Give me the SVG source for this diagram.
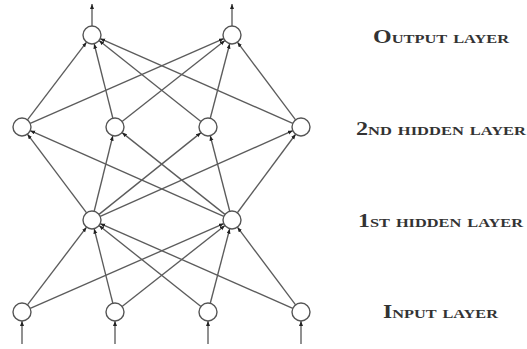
<svg xmlns="http://www.w3.org/2000/svg" width="527" height="349" viewBox="0 0 527 349">
  <style>
    .edge { stroke: #5c5c5c; stroke-width: 1.35; fill: none; marker-end: url(#tip); }
    .node circle { fill: #ffffff; stroke: #555555; stroke-width: 1.4; }
    .label { font-family: "Liberation Serif", "DejaVu Serif", serif; font-size: 19px; font-weight: bold; font-variant: small-caps; fill: #333333; text-anchor: middle; }
  </style>
  <defs>
    <marker id="tip" markerUnits="userSpaceOnUse" markerWidth="6" markerHeight="5" refX="5" refY="2" orient="auto">
      <path d="M0,0 L5,2 L0,4 z" fill="#222222"/>
    </marker>
  </defs>
  <rect width="527" height="349" fill="#ffffff"/>

  <g id="connectors">
    <!-- inputs into the network -->
    <line class="edge" x1="22" y1="344" x2="22" y2="321"/>
    <line class="edge" x1="115" y1="344" x2="115" y2="321"/>
    <line class="edge" x1="208" y1="344" x2="208" y2="321"/>
    <line class="edge" x1="301" y1="344" x2="301" y2="321"/>
    <!-- input layer to 1st hidden layer -->
    <line class="edge" x1="27.45" y1="304.84" x2="86.55" y2="227.16"/>
    <line class="edge" x1="30.24" y1="308.39" x2="223.76" y2="223.61"/>
    <line class="edge" x1="112.82" y1="303.27" x2="94.18" y2="228.73"/>
    <line class="edge" x1="122.07" y1="306.44" x2="224.93" y2="225.56"/>
    <line class="edge" x1="200.95" y1="306.41" x2="99.05" y2="225.59"/>
    <line class="edge" x1="210.27" y1="303.29" x2="229.73" y2="228.71"/>
    <line class="edge" x1="292.76" y1="308.37" x2="100.24" y2="223.63"/>
    <line class="edge" x1="295.6" y1="304.8" x2="237.4" y2="227.2"/>
    <!-- 1st hidden layer to 2nd hidden layer -->
    <line class="edge" x1="86.59" y1="212.81" x2="27.41" y2="134.19"/>
    <line class="edge" x1="94.16" y1="211.26" x2="112.84" y2="135.74"/>
    <line class="edge" x1="99.02" y1="214.37" x2="200.98" y2="132.63"/>
    <line class="edge" x1="100.22" y1="216.34" x2="292.78" y2="130.66"/>
    <line class="edge" x1="223.77" y1="216.36" x2="30.23" y2="130.64"/>
    <line class="edge" x1="224.95" y1="214.4" x2="122.05" y2="132.6"/>
    <line class="edge" x1="229.75" y1="211.29" x2="210.25" y2="135.71"/>
    <line class="edge" x1="237.36" y1="212.77" x2="295.64" y2="134.23"/>
    <!-- 2nd hidden layer to output layer -->
    <line class="edge" x1="27.45" y1="119.84" x2="86.55" y2="42.16"/>
    <line class="edge" x1="30.24" y1="123.39" x2="223.76" y2="38.61"/>
    <line class="edge" x1="112.82" y1="118.27" x2="94.18" y2="43.73"/>
    <line class="edge" x1="122.07" y1="121.44" x2="224.93" y2="40.56"/>
    <line class="edge" x1="200.95" y1="121.41" x2="99.05" y2="40.59"/>
    <line class="edge" x1="210.27" y1="118.29" x2="229.73" y2="43.71"/>
    <line class="edge" x1="292.76" y1="123.37" x2="100.24" y2="38.63"/>
    <line class="edge" x1="295.6" y1="119.8" x2="237.4" y2="42.2"/>
    <!-- network outputs -->
    <line class="edge" x1="92" y1="26" x2="92" y2="4"/>
    <line class="edge" x1="232" y1="26" x2="232" y2="4"/>
  </g>

  <g id="output-1" class="node"><circle cx="92" cy="35" r="9"/></g>
  <g id="output-2" class="node"><circle cx="232" cy="35" r="9"/></g>

  <g id="hidden2-1" class="node"><circle cx="22" cy="127" r="9"/></g>
  <g id="hidden2-2" class="node"><circle cx="115" cy="127" r="9"/></g>
  <g id="hidden2-3" class="node"><circle cx="208" cy="127" r="9"/></g>
  <g id="hidden2-4" class="node"><circle cx="301" cy="127" r="9"/></g>

  <g id="hidden1-1" class="node"><circle cx="92" cy="220" r="9"/></g>
  <g id="hidden1-2" class="node"><circle cx="232" cy="220" r="9"/></g>

  <g id="input-1" class="node"><circle cx="22" cy="312" r="9"/></g>
  <g id="input-2" class="node"><circle cx="115" cy="312" r="9"/></g>
  <g id="input-3" class="node"><circle cx="208" cy="312" r="9"/></g>
  <g id="input-4" class="node"><circle cx="301" cy="312" r="9"/></g>

  <g id="labels">
    <text class="label" x="441" y="43" textLength="136" lengthAdjust="spacingAndGlyphs">Output layer</text>
    <text class="label" x="441" y="135" textLength="170" lengthAdjust="spacingAndGlyphs">2nd hidden layer</text>
    <text class="label" x="440.5" y="227" textLength="165" lengthAdjust="spacingAndGlyphs">1st hidden layer</text>
    <text class="label" x="440.5" y="318" textLength="115" lengthAdjust="spacingAndGlyphs">Input layer</text>
  </g>
</svg>
